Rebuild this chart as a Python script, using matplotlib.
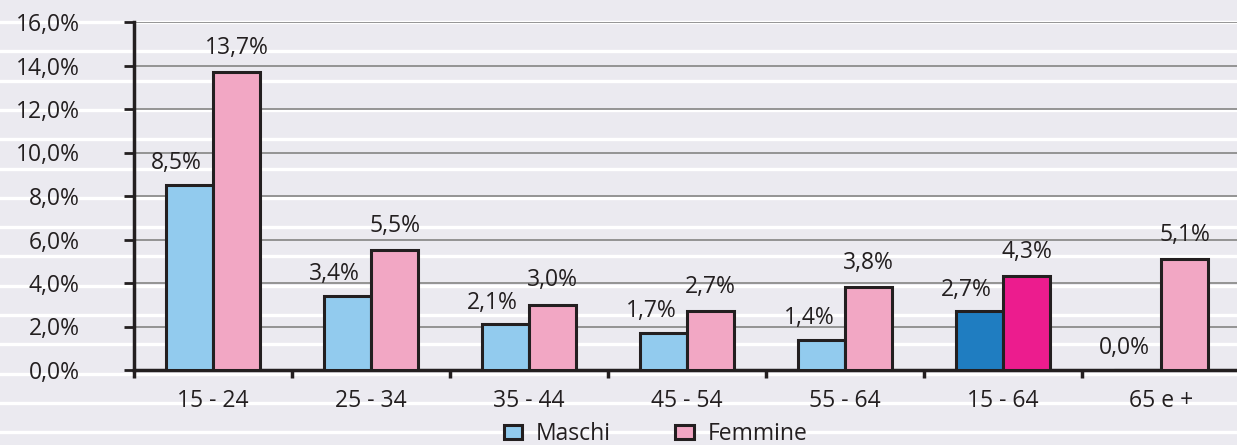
import numpy as np
import matplotlib
matplotlib.use('Agg')
import matplotlib.pyplot as plt
from matplotlib.patches import Patch
from matplotlib.lines import Line2D

# 数据
categories = ['15 - 24', '25 - 34', '35 - 44', '45 - 54', '55 - 64', '15 - 64', '65 e +']
maschi = [8.5, 3.4, 2.1, 1.7, 1.4, 2.7, 0.0]
femmine = [13.7, 5.5, 3.0, 2.7, 3.8, 4.3, 5.1]
y_ticks = [0, 2, 4, 6, 8, 10, 12, 14, 16]

# 颜色
blue_light, blue_dark = '#92CBEE', '#1F7DC1'
pink_light, pink_dark = '#F2A7C4', '#EC1C8E'
maschi_colors = [blue_light] * 5 + [blue_dark] + [blue_light]
femmine_colors = [pink_light] * 5 + [pink_dark] + [pink_light]
text_color = '#231F20'
bg_color = '#EBEAF0'
fs = 16.5

plt.rcParams['font.family'] = ['Open Sans', 'DejaVu Sans']
plt.rcParams['font.size'] = fs
plt.rcParams['text.color'] = text_color

W, H = 1237, 445
fig = plt.figure(figsize=(W / 100, H / 100), dpi=100, facecolor=bg_color)

# 背景白色条纹
for yp in np.arange(22, 440, 29.3):
    fig.add_artist(Line2D([0, 1], [1 - yp / H, 1 - yp / H], transform=fig.transFigure,
                          color='white', linewidth=2.4, zorder=0))

ax = fig.add_axes([134 / W, (H - 370) / H, (1240 - 134) / W, (370 - 22) / H])
ax.set_facecolor('none')

x = np.arange(len(categories))
w = 0.3
ax.bar(x - w / 2, maschi, width=w, color=maschi_colors, edgecolor='#231F20',
       linewidth=2.2, zorder=3)
ax.bar(x + w / 2, femmine, width=w, color=femmine_colors, edgecolor='#231F20',
       linewidth=2.2, zorder=3)


def fmt(v):
    return f'{v:.1f}%'.replace('.', ',')


for xi, v in zip(x, maschi):
    ax.annotate(fmt(v), (xi - w / 2, v), xytext=(-9, 7), textcoords='offset points',
                ha='center', va='bottom', fontsize=fs)
for xi, v in zip(x, femmine):
    ax.annotate(fmt(v), (xi + w / 2, v), xytext=(0, 9), textcoords='offset points',
                ha='center', va='bottom', fontsize=fs)

ax.set_xlim(-0.5, len(categories) - 0.5)
ax.set_ylim(0, 16)
ax.set_yticks(y_ticks)
ax.set_yticklabels([fmt(t) for t in y_ticks])
ax.yaxis.grid(True, color='#8C8C8C', linewidth=1.3, zorder=1)
ax.set_axisbelow(True)

# x轴刻度在分组之间
ax.set_xticks(np.arange(-0.5, len(categories), 1.0))
ax.set_xticklabels([])
ax.set_xticks(x, minor=True)
ax.set_xticklabels(categories, minor=True)
ax.tick_params(axis='x', which='major', direction='out', length=6, width=2.5, color='#231F20')
ax.tick_params(axis='x', which='minor', length=0, pad=14, labelsize=fs, labelcolor=text_color)
ax.tick_params(axis='y', direction='out', length=7, width=2, color='#231F20', pad=32,
               labelsize=fs, labelcolor=text_color)

for s in ['top', 'right']:
    ax.spines[s].set_visible(False)
ax.spines['left'].set_linewidth(2.5)
ax.spines['bottom'].set_linewidth(2.5)
ax.spines['left'].set_color('#231F20')
ax.spines['bottom'].set_color('#231F20')

handles = [Patch(facecolor=blue_light, edgecolor='#231F20', linewidth=2.2, label='Maschi'),
           Patch(facecolor=pink_light, edgecolor='#231F20', linewidth=2.2, label='Femmine')]
fig.legend(handles=handles, loc='center', bbox_to_anchor=(0.53, 0.025), ncol=2, frameon=False,
           handlelength=0.8, handleheight=0.6, handletextpad=0.6, columnspacing=2.8,
           fontsize=fs, borderpad=0)

fig.savefig('out.png', dpi=100, facecolor=bg_color)
